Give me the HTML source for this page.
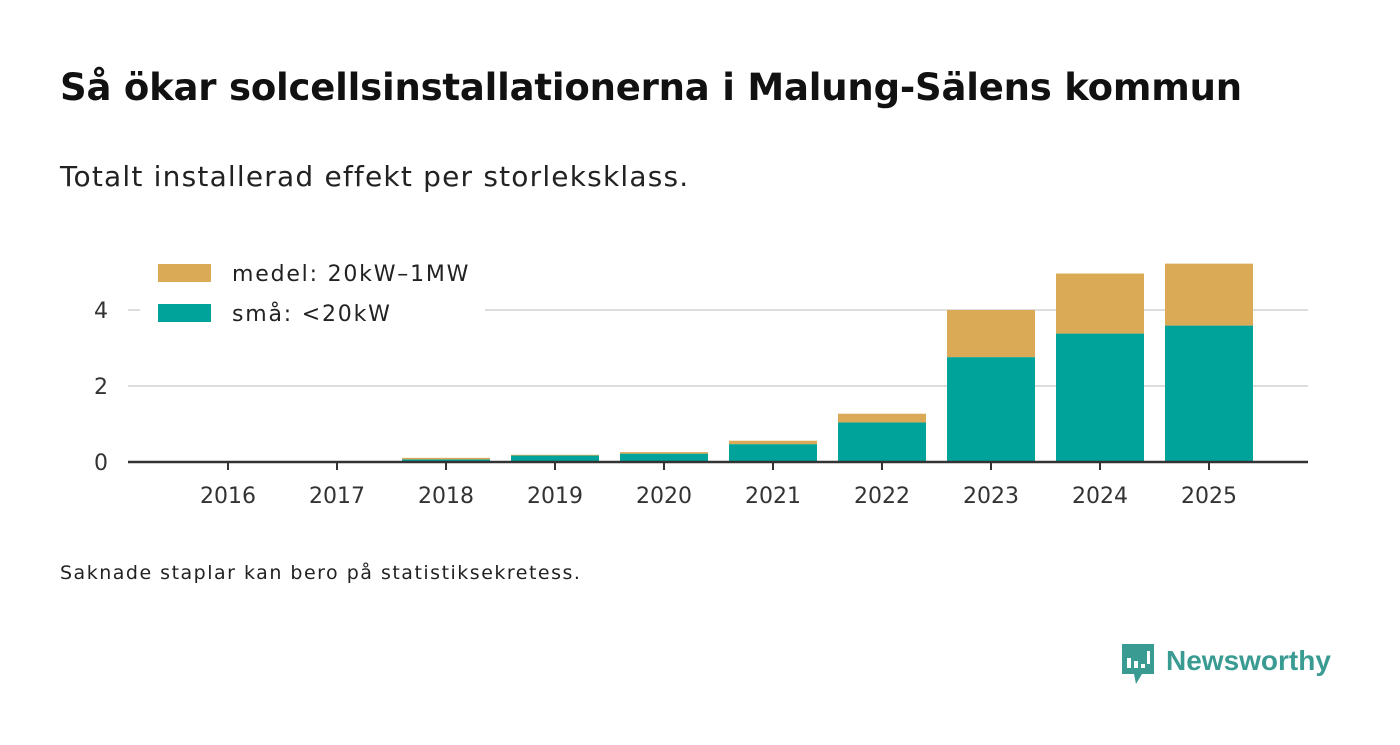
<!DOCTYPE html>
<html><head><meta charset="utf-8"><style>
body{margin:0;width:1400px;height:745px;background:#fff;font-family:"DejaVu Sans","Liberation Sans",sans-serif;overflow:hidden;position:relative}
.t{position:absolute;left:60px;top:66px;font-size:37px;font-weight:bold;color:#111;white-space:nowrap;letter-spacing:-0.2px}
.s{position:absolute;left:60px;top:160px;font-size:28px;color:#222;white-space:nowrap;letter-spacing:1.2px}
.n{position:absolute;left:60px;top:562px;font-size:19px;color:#222;white-space:nowrap;letter-spacing:1.5px}
svg{position:absolute;left:0;top:0}
</style></head><body>
<div class="t">Så ökar solcellsinstallationerna i Malung-Sälens kommun</div>
<div class="s">Totalt installerad effekt per storleksklass.</div>
<div class="n">Saknade staplar kan bero på statistiksekretess.</div>
<svg width="1400" height="745" id="c"></svg>
<script>
const years=["2016","2017","2018","2019","2020","2021","2022","2023","2024","2025"];
const small=[0,0,0.07,0.17,0.22,0.47,1.04,2.76,3.38,3.59];
const medium=[0,0,0.04,0.02,0.04,0.09,0.23,1.24,1.58,1.63];
const yTicks=[0,2,4];
const NS="http://www.w3.org/2000/svg";
const svg=document.getElementById('c');
const y=v=>462-v*38, x=i=>228+i*109, bw=88;
const FF='DejaVu Sans, Liberation Sans, sans-serif';
function mk(t,a,p){const e=document.createElementNS(NS,t);for(const k in a)e.setAttribute(k,a[k]);(p||svg).appendChild(e);return e;}
yTicks.forEach(v=>{
 if(v>0){const g=mk('line',{x1:128,x2:1308,y1:y(v),y2:y(v),stroke:'#ddd','stroke-width':2});
 
 }
 const t=mk('text',{x:108,y:y(v)+8,'text-anchor':'end','font-size':22,fill:'#333','font-family':FF});t.textContent=v;
 
 
});
years.forEach((yr,i)=>{
 const s=mk('rect',{x:x(i)-bw/2,y:y(small[i]),width:bw,height:small[i]*38,fill:'#00a39a'});
 
 
 const m=mk('rect',{x:x(i)-bw/2,y:y(small[i]+medium[i]),width:bw,height:medium[i]*38,fill:'#dbaa56'});
 
 
 const tk=mk('line',{x1:x(i),x2:x(i),y1:462,y2:470,stroke:'#333','stroke-width':2});
 
 
 const t=mk('text',{x:x(i),y:503,'text-anchor':'middle','font-size':22,fill:'#333','font-family':FF});t.textContent=yr;
 
 
});
const ax=mk('line',{x1:128,x2:1308,y1:462,y2:462,stroke:'#333','stroke-width':2.5});


const lg=mk('g',{});


mk('rect',{x:140,y:252,width:345,height:80,fill:'#fff'},lg);
[["medel: 20kW–1MW",'#dbaa56',264],["små: <20kW",'#00a39a',304]].forEach(([l,c,yy])=>{
 mk('rect',{x:158,y:yy,width:53,height:18,fill:c},lg);
 const t=mk('text',{x:232,y:yy+17,'font-size':22,'letter-spacing':1.8,fill:'#222','font-family':FF},lg);t.textContent=l;
 
 
});
const lo=mk('g',{});


mk('path',{d:'M1122 644h32v30h-12l-6 10l-2-10h-12z',fill:'#3a9b93'},lo);
[[1127,10],[1134,7],[1141,4]].forEach(([bx,h])=>mk('rect',{x:bx,y:670-h-2,width:4,height:h,fill:'#fff'},lo));
mk('rect',{x:1147,y:651,width:3,height:13,fill:'#fff'},lo);
const lt=mk('text',{x:1166,y:670,'font-size':28,'font-weight':'bold',fill:'#3a9b93','font-family':'Liberation Sans'},lo);lt.textContent='Newsworthy';
</script>
</body></html>
